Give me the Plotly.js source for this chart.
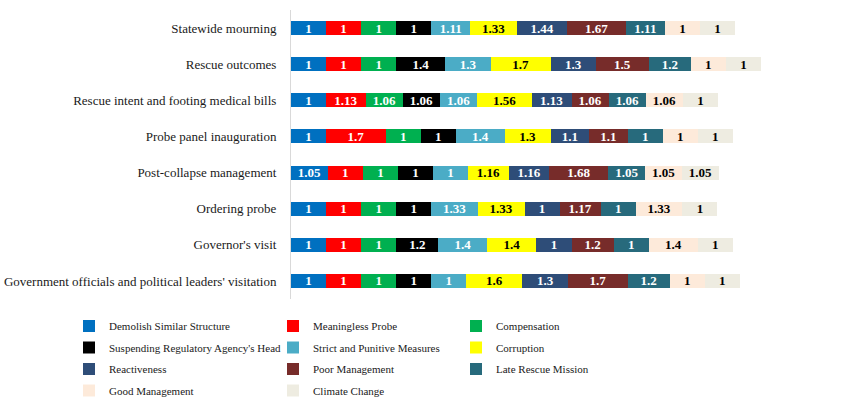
<!DOCTYPE html>
<html><head><meta charset="utf-8">
<script src="https://cdn.plot.ly/plotly-3.0.1.min.js"></script>
<style>html,body{margin:0;padding:0;background:#fff;}</style>
</head><body>
<div id="chart" style="width:861px;height:401px;"></div>
<script>
// categories, bottom to top
const categories = [
  "Government officials and political leaders' visitation",
  "Governor's visit",
  "Ordering probe",
  "Post-collapse management",
  "Probe panel inauguration",
  "Rescue intent and footing medical bills",
  "Rescue outcomes",
  "Statewide mourning"
];
const seriesNames = [
  "Demolish Similar Structure","Meaningless Probe","Compensation",
  "Suspending Regulatory Agency's Head","Strict and Punitive Measures","Corruption",
  "Reactiveness","Poor Management","Late Rescue Mission",
  "Good Management","Climate Change"
];
// values per series, same order as categories
const demolish     = [1, 1, 1, 1.05, 1, 1, 1, 1];
const meaningless  = [1, 1, 1, 1, 1.7, 1.13, 1, 1];
const compensation = [1, 1, 1, 1, 1, 1.06, 1, 1];
const suspending   = [1, 1.2, 1, 1, 1, 1.06, 1.4, 1];
const strict       = [1, 1.4, 1.33, 1, 1.4, 1.06, 1.3, 1.11];
const corruption   = [1.6, 1.4, 1.33, 1.16, 1.3, 1.56, 1.7, 1.33];
const reactiveness = [1.3, 1, 1, 1.16, 1.1, 1.13, 1.3, 1.44];
const poorMgmt     = [1.7, 1.2, 1.17, 1.68, 1.1, 1.06, 1.5, 1.67];
const lateRescue   = [1.2, 1, 1, 1.05, 1, 1.06, 1.2, 1.11];
const goodMgmt     = [1, 1.4, 1.33, 1.05, 1, 1.06, 1, 1];
const climate      = [1, 1, 1, 1.05, 1, 1, 1, 1];
const seriesValues = [demolish, meaningless, compensation, suspending, strict, corruption,
  reactiveness, poorMgmt, lateRescue, goodMgmt, climate];

const colors = ["#0070C0","#FF0000","#00B050","#000000","#4BACC6","#FFFF00",
  "#2E4D78","#772C2A","#276A7C","#FDEADA","#EEECE1"];
const textColors = ["#fff","#fff","#fff","#fff","#fff","#000","#fff","#fff","#fff","#000","#000"];

const legendId = i => (i === 0 ? 'legend' : 'legend' + (i + 1));

const traces = seriesNames.map((name, i) => ({
  type: 'bar', orientation: 'h', name: name,
  y: categories, x: seriesValues[i],
  text: seriesValues[i].map(v => String(v)),
  textposition: 'inside', insidetextanchor: 'middle', textangle: 0,
  constraintext: 'none',
  textfont: {family: 'Liberation Serif', size: 13, color: textColors[i], weight: 'bold'},
  marker: {color: colors[i], line: {width: 0}},
  legend: legendId(i),
  hoverinfo: 'none'
}));

// legend grid: 3 columns, 4 rows (pixel positions of each entry)
const legendColsX = [69, 273, 456];
const legendRowsY = [326, 347.5, 369, 390.5];

const layout = {
  width: 861, height: 401,
  barmode: 'stack', bargap: 0.61,
  margin: {l: 291, r: 0, t: 10, b: 102},
  paper_bgcolor: '#fff', plot_bgcolor: '#fff',
  font: {family: 'Liberation Serif', size: 12, color: '#1a1a1a'},
  xaxis: {visible: false, range: [0, 570 / 35.07], fixedrange: true},
  yaxis: {type: 'category', showline: true, linecolor: '#D9D9D9', linewidth: 1,
    showgrid: false, zeroline: false, ticks: '', ticklabelstandoff: 11,
    tickfont: {family: 'Liberation Serif', size: 13, color: '#1a1a1a'}},
  showlegend: true
};
seriesNames.forEach((n, i) => {
  const col = i % 3, row = Math.floor(i / 3);
  layout[legendId(i)] = {orientation: 'h', xref: 'container', yref: 'container',
    x: legendColsX[col] / 861, y: 1 - legendRowsY[row] / 401,
    xanchor: 'left', yanchor: 'middle', bgcolor: 'rgba(0,0,0,0)',
    font: {family: 'Liberation Serif', size: 11, color: '#1a1a1a'}};
});
Plotly.newPlot('chart', traces, layout, {staticPlot: true, displayModeBar: false});
</script>
</body></html>
